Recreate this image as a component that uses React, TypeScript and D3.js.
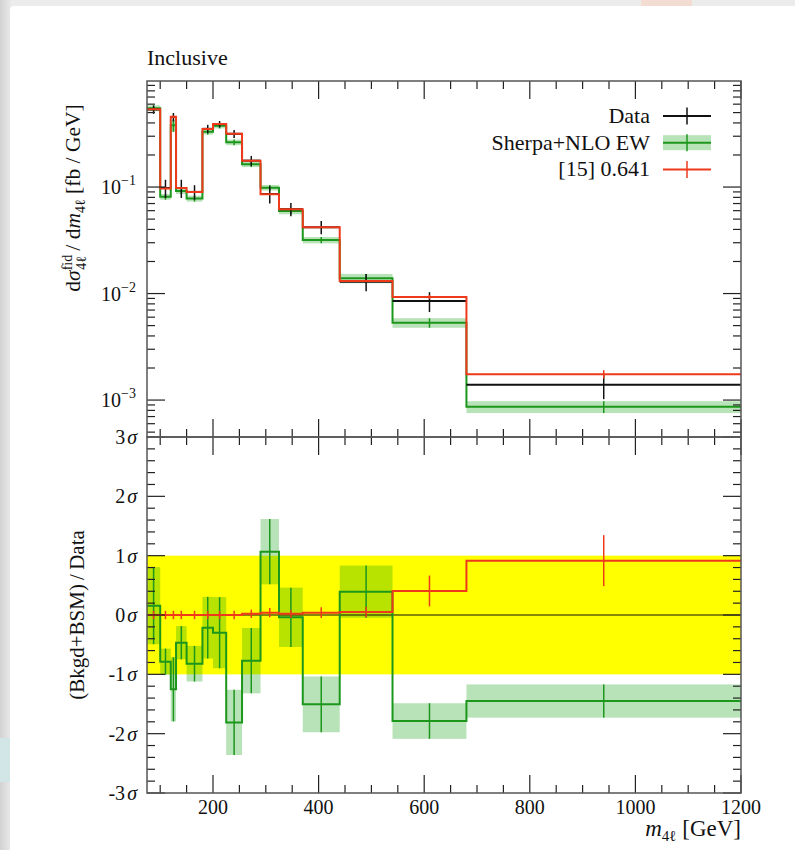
import React from "react";
import * as d3 from "d3";

// ── Data ──────────────────────────────────────────────────
const binEdges = [75, 100, 120, 130, 150, 180, 200, 225, 255, 290, 325, 370, 440, 540, 680, 1200];

const dataValues = [0.535, 0.098, 0.455, 0.098, 0.09, 0.352, 0.39, 0.316, 0.177, 0.086, 0.062, 0.042, 0.0129, 0.0085, 0.00139];
const dataErrors = [0.048, 0.019, 0.041, 0.019, 0.014, 0.032, 0.027, 0.028, 0.019, 0.016, 0.0087, 0.0059, 0.0024, 0.0018, 0.00037];

const sherpaValues = [0.55, 0.081, 0.38, 0.092, 0.078, 0.331, 0.377, 0.263, 0.164, 0.0986, 0.0595, 0.0318, 0.0139, 0.00532, 0.000865];
const sherpaErrors = [0.035, 0.005, 0.05, 0.006, 0.005, 0.02, 0.022, 0.016, 0.01, 0.006, 0.004, 0.0022, 0.0014, 0.00055, 0.00011];

const bsmValues = [0.537, 0.097, 0.457, 0.098, 0.09, 0.351, 0.391, 0.316, 0.177, 0.0854, 0.0618, 0.0419, 0.0131, 0.0093, 0.00175];
const bsmErrors = [0.01, 0.002, 0.01, 0.002, 0.002, 0.006, 0.006, 0.005, 0.003, 0.0015, 0.001, 0.0007, 0.0003, 0.0004, 0.00016];

const sherpaPulls = [0.157, -0.787, -1.253, -0.467, -0.821, -0.214, -0.298, -1.81, -0.77, 1.067, -0.039, -1.506, 0.393, -1.787, -1.45];
const sherpaPullErrors = [0.65, 0.22, 0.54, 0.28, 0.3, 0.52, 0.6, 0.55, 0.55, 0.55, 0.5, 0.47, 0.44, 0.3, 0.28];

const bsmPulls = [0, 0, 0, 0, 0, 0, 0, 0, 0.02, 0.04, 0.02, 0.04, 0.05, 0.405, 0.916];
const bsmPullErrors = [0.07, 0.07, 0.07, 0.07, 0.07, 0.07, 0.07, 0.07, 0.07, 0.08, 0.07, 0.09, 0.09, 0.26, 0.43];

const xMajorTicks = [200, 400, 600, 800, 1000, 1200];
const sigmaLabels = [3, 2, 1, 0, -1, -2, -3];
const legendLabels = ["Data", "Sherpa+NLO EW", "[15] 0.641"];

// ── Layout ────────────────────────────────────────────────
const W = 795;
const H = 850;
const X0 = 147;
const X1 = 741;
const TOP = 81;
const MID = 437;
const BOT = 793;

const RED = "#ee3a1b";
const GREEN = "#1c971c";
const BAND = "rgba(0,150,0,0.28)";
const FONT = "'Liberation Serif', 'DejaVu Serif', serif";

export default function App() {
  const x = d3.scaleLinear().domain([75, 1200]).range([X0, X1]);
  const yTop = d3.scaleLog().domain([4.5e-4, 0.99]).range([MID, TOP]);
  const yBot = d3.scaleLinear().domain([-3, 3]).range([BOT, MID]);

  const bins = d3.range(binEdges.length - 1).map((i) => ({
    lo: binEdges[i],
    hi: binEdges[i + 1],
    mid: (binEdges[i] + binEdges[i + 1]) / 2,
  }));

  const step = (vals: number[], y: (v: number) => number) => {
    const pts: [number, number][] = bins.map((b, i) => [b.lo, vals[i]]);
    pts.push([bins[bins.length - 1].hi, vals[vals.length - 1]]);
    return d3
      .line<[number, number]>()
      .x((d) => x(d[0]))
      .y((d) => y(d[1]))
      .curve(d3.curveStepAfter)(pts) as string;
  };

  // ticks
  const xMinor = d3.range(100, 1200, 50).filter((v) => !xMajorTicks.includes(v));
  const logTicks = yTop.ticks();
  const isDecade = (v: number) => Math.abs(Math.log10(v) - Math.round(Math.log10(v))) < 1e-6;
  const sigTicks = d3.range(-15, 16).map((k) => ({ v: k * 0.2, major: k % 5 === 0 }));

  const xTickMarks = (yEdge: number, dir: number, key: string) => (
    <g key={key}>
      {xMajorTicks.map((v) => (
        <line key={"M" + v} x1={x(v)} x2={x(v)} y1={yEdge} y2={yEdge + dir * 18} stroke="#222" strokeWidth={1.2} />
      ))}
      {xMinor.map((v) => (
        <line key={"m" + v} x1={x(v)} x2={x(v)} y1={yEdge} y2={yEdge + dir * 8} stroke="#222" strokeWidth={1.2} />
      ))}
    </g>
  );

  return (
    <div style={{ position: "absolute", left: 0, top: 0 }}>
      <svg width={W} height={H} style={{ display: "block", fontFamily: FONT }}>
        <defs>
          <linearGradient id="edge" x1="0" x2="1" y1="0" y2="0">
            <stop offset="0" stopColor="#d2d2d2" />
            <stop offset="1" stopColor="#e9e9e9" />
          </linearGradient>
        </defs>
        {/* page frame around the card */}
        <rect width={W} height={H} fill="#ececec" />
        <rect x={0} y={0} width={11} height={H} fill="url(#edge)" />
        <rect x={641} y={0} width={51} height={6} fill="#f3ddd2" />
        <rect x={0} y={738} width={10} height={44} fill="#d3e6e7" />
        <rect x={10} y={6} width={W} height={H} rx={4} fill="#fff" />

        {/* title */}
        <text x={X0} y={65} fontSize={22} fill="#111">
          Inclusive
        </text>

        {/* ── top panel ───────────────────────────── */}
        <g>
          {bins.map((b, i) => (
            <rect
              key={"sb" + i}
              x={x(b.lo)}
              width={x(b.hi) - x(b.lo)}
              y={yTop(sherpaValues[i] + sherpaErrors[i])}
              height={yTop(sherpaValues[i] - sherpaErrors[i]) - yTop(sherpaValues[i] + sherpaErrors[i])}
              fill={BAND}
            />
          ))}
          <path d={step(sherpaValues, yTop)} fill="none" stroke={GREEN} strokeWidth={2} />
          {bins.map((b, i) => (
            <line
              key={"se" + i}
              x1={x(b.mid)}
              x2={x(b.mid)}
              y1={yTop(sherpaValues[i] + sherpaErrors[i])}
              y2={yTop(sherpaValues[i] - sherpaErrors[i])}
              stroke={GREEN}
              strokeWidth={1.5}
            />
          ))}
          {bins.map((b, i) => (
            <g key={"d" + i}>
              <line x1={x(b.lo)} x2={x(b.hi)} y1={yTop(dataValues[i])} y2={yTop(dataValues[i])} stroke="#111" strokeWidth={2} />
              <line
                x1={x(b.mid)}
                x2={x(b.mid)}
                y1={yTop(dataValues[i] + dataErrors[i])}
                y2={yTop(dataValues[i] - dataErrors[i])}
                stroke="#111"
                strokeWidth={1.5}
              />
            </g>
          ))}
          <path d={step(bsmValues, yTop)} fill="none" stroke={RED} strokeWidth={2} />
          {bins.map((b, i) => (
            <line
              key={"re" + i}
              x1={x(b.mid)}
              x2={x(b.mid)}
              y1={yTop(bsmValues[i] + bsmErrors[i])}
              y2={yTop(bsmValues[i] - bsmErrors[i])}
              stroke={RED}
              strokeWidth={1.5}
            />
          ))}
        </g>

        {/* ── bottom panel ────────────────────────── */}
        <g>
          <rect x={X0} width={X1 - X0} y={yBot(1)} height={yBot(-1) - yBot(1)} fill="#ffff00" />
          {bins.map((b, i) => (
            <g key={"pb" + i}>
              <rect
                x={x(b.lo)}
                width={x(b.hi) - x(b.lo)}
                y={yBot(sherpaPulls[i] + sherpaPullErrors[i])}
                height={yBot(sherpaPulls[i] - sherpaPullErrors[i]) - yBot(sherpaPulls[i] + sherpaPullErrors[i])}
                fill={BAND}
              />
              <line
                x1={x(b.mid)}
                x2={x(b.mid)}
                y1={yBot(sherpaPulls[i] + sherpaPullErrors[i])}
                y2={yBot(sherpaPulls[i] - sherpaPullErrors[i])}
                stroke={GREEN}
                strokeWidth={1.5}
              />
            </g>
          ))}
          <line x1={X0} x2={X1} y1={yBot(0)} y2={yBot(0)} stroke="#111" strokeWidth={1.2} />
          <path d={step(sherpaPulls, yBot)} fill="none" stroke={GREEN} strokeWidth={2} />
          <path d={step(bsmPulls, yBot)} fill="none" stroke={RED} strokeWidth={2} />
          {bins.map((b, i) => (
            <line
              key={"rp" + i}
              x1={x(b.mid)}
              x2={x(b.mid)}
              y1={yBot(bsmPulls[i] + bsmPullErrors[i])}
              y2={yBot(bsmPulls[i] - bsmPullErrors[i])}
              stroke={RED}
              strokeWidth={1.5}
            />
          ))}
        </g>

        {/* ── ticks ───────────────────────────────── */}
        {xTickMarks(TOP, 1, "t1")}
        {xTickMarks(MID, -1, "t2")}
        {xTickMarks(MID, 1, "t3")}
        {xTickMarks(BOT, -1, "t4")}
        {logTicks.map((v, i) => {
          const len = isDecade(v) ? 18 : 8;
          return (
            <g key={"ly" + i}>
              <line x1={X0} x2={X0 + len} y1={yTop(v)} y2={yTop(v)} stroke="#222" strokeWidth={1.2} />
              <line x1={X1} x2={X1 - len} y1={yTop(v)} y2={yTop(v)} stroke="#222" strokeWidth={1.2} />
            </g>
          );
        })}
        {sigTicks.map((t, i) => {
          const len = t.major ? 18 : 8;
          return (
            <g key={"sy" + i}>
              <line x1={X0} x2={X0 + len} y1={yBot(t.v)} y2={yBot(t.v)} stroke="#222" strokeWidth={1.2} />
              <line x1={X1} x2={X1 - len} y1={yBot(t.v)} y2={yBot(t.v)} stroke="#222" strokeWidth={1.2} />
            </g>
          );
        })}

        {/* frames */}
        <rect x={X0} y={TOP} width={X1 - X0} height={MID - TOP} fill="none" stroke="#555" strokeWidth={1.5} />
        <rect x={X0} y={MID} width={X1 - X0} height={BOT - MID} fill="none" stroke="#555" strokeWidth={1.5} />

        {/* ── tick labels ─────────────────────────── */}
        {logTicks.filter(isDecade).map((v) => (
          <text key={"lt" + v} x={136} y={yTop(v) + 7} textAnchor="end" fontSize={20} fill="#111">
            10<tspan fontSize={14} dy={-9}>−{Math.round(-Math.log10(v))}</tspan>
          </text>
        ))}
        {sigmaLabels.map((s) => (
          <text key={"sl" + s} x={137} y={yBot(s) + 7} textAnchor="end" fontSize={20} fill="#111">
            {s < 0 ? "-" + -s : s}
            <tspan fontStyle="italic" dx={2}>σ</tspan>
          </text>
        ))}
        {xMajorTicks.map((v) => (
          <text key={"xl" + v} x={x(v)} y={814} textAnchor="middle" fontSize={20} fill="#111">
            {v}
          </text>
        ))}

        {/* axis titles */}
        <text transform="translate(80,198) rotate(-90)" textAnchor="middle" fontSize={21.5} fill="#111">
          d<tspan fontStyle="italic">σ</tspan>
          <tspan fontSize={14} dy={-8}>fid</tspan>
          <tspan fontSize={14} dx={-15} dy={14}>
            4ℓ
          </tspan>
          <tspan dy={-6}> / d</tspan>
          <tspan fontStyle="italic">m</tspan>
          <tspan fontSize={14} dy={5}>
            4ℓ
          </tspan>
          <tspan dy={-5}> [fb / GeV]</tspan>
        </text>
        <text transform="translate(84,615) rotate(-90)" textAnchor="middle" fontSize={21} fill="#111">
          (Bkgd+BSM)&#8201;/&#8201;Data
        </text>
        <text x={741} y={836} textAnchor="end" fontSize={23} fill="#111">
          <tspan fontStyle="italic">m</tspan>
          <tspan fontSize={15} dy={5}>
            4ℓ
          </tspan>
          <tspan dy={-5}> [GeV]</tspan>
        </text>

        {/* ── legend ──────────────────────────────── */}
        {legendLabels.map((label, i) => {
          const ly = 116 + i * 26.7;
          const color = i === 0 ? "#111" : i === 1 ? GREEN : RED;
          return (
            <g key={label}>
              {i === 1 && <rect x={663} y={ly - 7.5} width={48} height={15} fill={BAND} />}
              <line x1={663} x2={711} y1={ly} y2={ly} stroke={color} strokeWidth={2} />
              <line x1={687} x2={687} y1={ly - 8.5} y2={ly + 8.5} stroke={color} strokeWidth={1.5} />
              <text x={650} y={ly + 7} textAnchor="end" fontSize={22} fill="#111">
                {label}
              </text>
            </g>
          );
        })}
      </svg>
    </div>
  );
}
